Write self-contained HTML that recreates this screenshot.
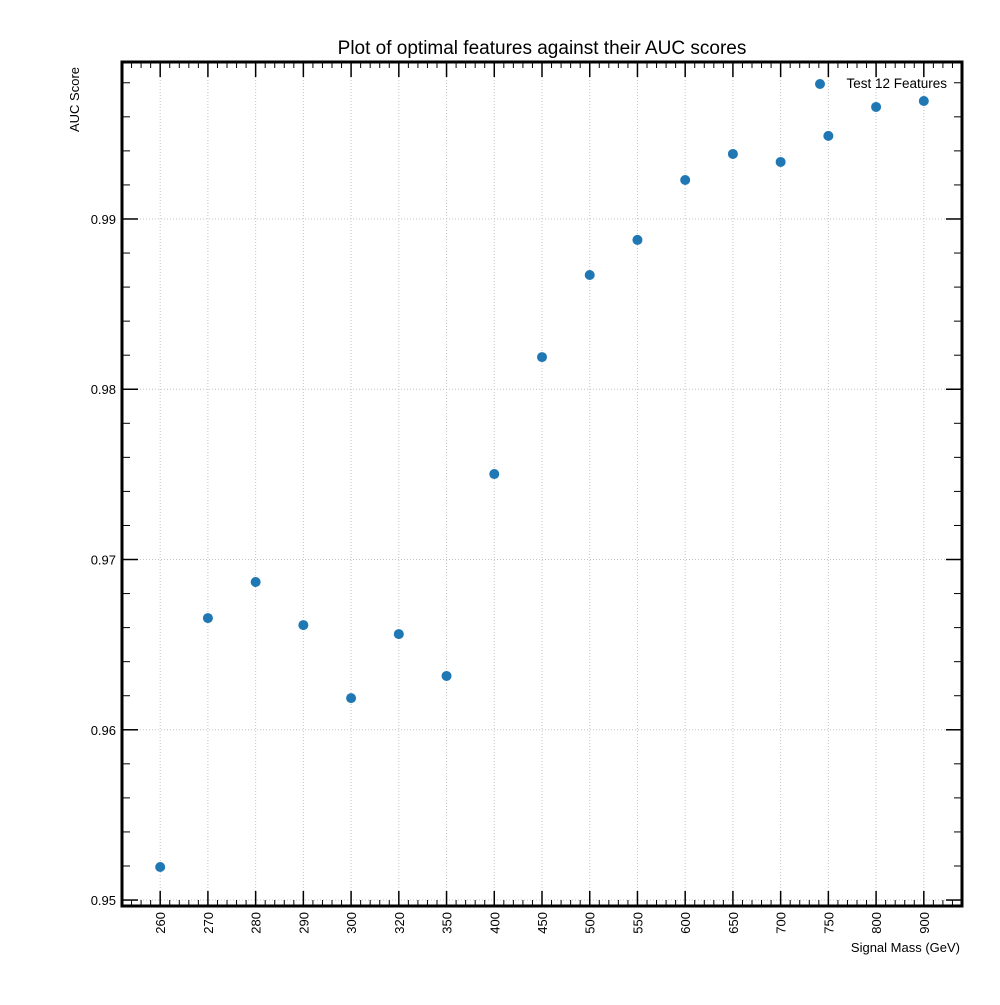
<!DOCTYPE html>
<html><head><meta charset="utf-8"><style>
body{margin:0;background:#fff;font-family:"Liberation Sans",sans-serif}
</style></head><body>
<svg id="chart" width="1000" height="1000" font-family="Liberation Sans, sans-serif">
<text x="542" y="54" text-anchor="middle" font-size="19">Plot of optimal features against their AUC scores</text>
<text transform="translate(79,132) rotate(-90)" text-anchor="start" font-size="13">AUC Score</text>
<text x="960" y="952" text-anchor="end" font-size="13">Signal Mass (GeV)</text>
<g id="grid"></g><g id="ticks"></g><g id="pts"></g>
<rect x="122" y="62" width="840" height="844" fill="none" stroke="#000" stroke-width="3"/>
<circle cx="820" cy="84" r="5" fill="#1f77b4"/>
<text x="947" y="88" text-anchor="end" font-size="13.5">Test 12 Features</text>
</svg>
<script>
const categories=["260","270","280","290","300","320","350","400","450","500","550","600","650","700","750","800","900"];
const aucValues=[0.95194,0.96656,0.96868,0.96615,0.96186,0.96562,0.96316,0.97502,0.98189,0.98671,0.98877,0.99229,0.99382,0.99335,0.99488,0.99658,0.99693];
const yTicks=[0.95,0.96,0.97,0.98,0.99];
const yTickLabels=["0.95","0.96","0.97","0.98","0.99"];
const NS="http://www.w3.org/2000/svg";
const L=122,R=962,T=62,B=906,xmin=-0.8,xmax=16.8,ymin=0.94965,ymax=0.99922;
const xs=i=>L+(i-xmin)/(xmax-xmin)*(R-L);
const ys=v=>B-(v-ymin)/(ymax-ymin)*(B-T);
function mk(tag,attrs,parent){const e=document.createElementNS(NS,tag);for(const k in attrs)e.setAttribute(k,attrs[k]);parent.appendChild(e);return e;}
const grid=document.getElementById('grid'),ticks=document.getElementById('ticks'),pts=document.getElementById('pts');
categories.forEach((c,i)=>{
 const x=xs(i);
 const g=mk('line',{x1:x,x2:x,y1:T,y2:B,stroke:'#c4c4c4','stroke-dasharray':'1,2','stroke-width':1},grid);
 
 
 mk('line',{x1:x,x2:x,y1:B,y2:B-15,stroke:'#000','stroke-width':1.5},ticks);
 mk('line',{x1:x,x2:x,y1:T,y2:T+15,stroke:'#000','stroke-width':1.5},ticks);
 const t=mk('text',{transform:`translate(${x+5},${B+6}) rotate(-90)`,'text-anchor':'end','font-size':13},ticks);
 t.textContent=c;
 
 
});
for(let k=0;k<=88;k++){const u=k*0.2-0.8;const x=xs(u);if(x<L+1||x>R-1||Math.abs(u-Math.round(u))<0.01)continue;
 mk('line',{x1:x,x2:x,y1:B,y2:B-6,stroke:'#000'},ticks);mk('line',{x1:x,x2:x,y1:T,y2:T+6,stroke:'#000'},ticks);}
yTicks.forEach((v,i)=>{
 const y=ys(v);
 const g=mk('line',{x1:L,x2:R,y1:y,y2:y,stroke:'#c4c4c4','stroke-dasharray':'1,2','stroke-width':1},grid);
 
 
 mk('line',{x1:L,x2:L+16,y1:y,y2:y,stroke:'#000','stroke-width':1.5},ticks);
 mk('line',{x1:R,x2:R-16,y1:y,y2:y,stroke:'#000','stroke-width':1.5},ticks);
 const t=mk('text',{x:L-6,y:y+5,'text-anchor':'end','font-size':13},ticks);
 t.textContent=yTickLabels[i];
 
 
});
for(let k=0;k<=25;k++){const v=0.95+k*0.002;if(k%5===0)continue;const y=ys(v);if(y<T+1)continue;
 mk('line',{x1:L,x2:L+8,y1:y,y2:y,stroke:'#000'},ticks);mk('line',{x1:R,x2:R-8,y1:y,y2:y,stroke:'#000'},ticks);}
aucValues.forEach((v,i)=>{
 const c=mk('circle',{cx:xs(i),cy:ys(v),r:5,fill:'#1f77b4'},pts);
 
 
});
</script>
</body></html>
